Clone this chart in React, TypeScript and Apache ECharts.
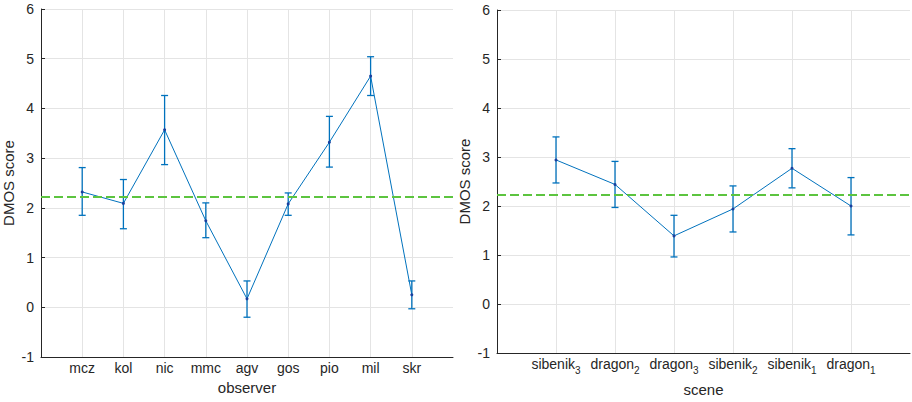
import React, { useEffect, useRef } from "react";
import * as echarts from "echarts";

const observers = ["mcz", "kol", "nic", "mmc", "agv", "gos", "pio", "mil", "skr"];
const obsMean = [2.32, 2.09, 3.57, 1.74, 0.17, 2.08, 3.32, 4.65, 0.25];
const obsLow = [1.85, 1.58, 2.87, 1.4, -0.2, 1.85, 2.82, 4.26, -0.03];
const obsHigh = [2.81, 2.57, 4.26, 2.1, 0.53, 2.3, 3.84, 5.04, 0.53];

const sceneNames = ["sibenik", "dragon", "dragon", "sibenik", "sibenik", "dragon"];
const sceneSub = ["3", "2", "3", "2", "1", "1"];
const sceneMean = [2.94, 2.44, 1.39, 1.94, 2.77, 2.0];
const sceneLow = [2.47, 1.97, 0.96, 1.47, 2.37, 1.41];
const sceneHigh = [3.41, 2.91, 1.81, 2.41, 3.17, 2.58];

const overallMean = 2.23;

const BLUE = "#0072BD";
const GREEN = "#5CC43F";
const AXIS = "#262626";
const GRID = "#e4e4e4";
const FONT = "Liberation Sans";

function errRender(params: any, api: any) {
  const x = api.value(0);
  const lo = api.coord([x, api.value(1)]);
  const hi = api.coord([x, api.value(2)]);
  const w = 3.5;
  const style = { stroke: BLUE, lineWidth: 1.3 };
  return {
    type: "group",
    children: [
      { type: "line", shape: { x1: lo[0], y1: lo[1], x2: hi[0], y2: hi[1] }, style },
      { type: "line", shape: { x1: lo[0] - w, y1: lo[1], x2: lo[0] + w, y2: lo[1] }, style },
      { type: "line", shape: { x1: hi[0] - w, y1: hi[1], x2: hi[0] + w, y2: hi[1] }, style },
    ],
  };
}

export default function App() {
  const ref = useRef<HTMLDivElement>(null);
  useEffect(() => {
    if (!ref.current) return;
    const chart = echarts.init(ref.current, null, { renderer: "svg" });
    const obsIdx = observers.map((_, i) => i + 1);
    const sceneIdx = sceneNames.map((_, i) => i + 1);

    const yAxisCommon = (gridIndex: number) => ({
      type: "value",
      gridIndex,
      min: -1,
      max: 6,
      interval: 1,
      name: "DMOS score",
      nameLocation: "middle",
      nameGap: 25,
      nameTextStyle: { fontFamily: FONT, fontSize: 15, color: AXIS },
      axisLine: { show: true, lineStyle: { color: AXIS, width: 1 } },
      axisTick: { show: true, inside: true, length: 4, lineStyle: { color: AXIS } },
      axisLabel: { fontFamily: FONT, fontSize: 14, color: AXIS, margin: 7 },
      splitLine: { show: true, lineStyle: { color: GRID, width: 1 } },
    });

    const gridLines = (xAxisIndex: number, idx: number[]) => ({
      type: "line",
      xAxisIndex,
      yAxisIndex: xAxisIndex,
      data: [],
      z: 0,
      silent: true,
      markLine: {
        z: 1,
        symbol: "none",
        silent: true,
        label: { show: false },
        lineStyle: { color: GRID, type: "solid", width: 1 },
        data: idx.map((v) => ({ xAxis: v })),
      },
    });

    const meanLine = (axisIndex: number, idx: number[], vals: number[]) => ({
      type: "line",
      xAxisIndex: axisIndex,
      yAxisIndex: axisIndex,
      data: idx.map((x, i) => [x, vals[i]]),
      symbol: "circle",
      symbolSize: 3,
      itemStyle: { color: "#1a3f9e" },
      lineStyle: { color: BLUE, width: 1 },
      z: 4,
      markLine: {
        z: 6,
        symbol: "none",
        silent: true,
        label: { show: false },
        lineStyle: { color: GREEN, type: [9, 4], width: 2 },
        data: [{ yAxis: overallMean }],
      },
    });

    const errSeries = (axisIndex: number, idx: number[], lo: number[], hi: number[]) => ({
      type: "custom",
      xAxisIndex: axisIndex,
      yAxisIndex: axisIndex,
      renderItem: errRender,
      data: idx.map((x, i) => [x, lo[i], hi[i]]),
      z: 3,
    });

    const option: any = {
      animation: false,
      grid: [
        { left: 40, top: 9, width: 413, height: 348 },
        { left: 497, top: 10, width: 413, height: 348 },
      ],
      xAxis: [
        {
          type: "value",
          gridIndex: 0,
          min: 0,
          max: observers.length + 1,
          interval: 1,
          name: "observer",
          nameLocation: "middle",
          nameGap: 21,
          nameTextStyle: { fontFamily: FONT, fontSize: 15, color: AXIS },
          axisLine: { show: true, onZero: false, lineStyle: { color: AXIS } },
          axisTick: { show: true, inside: true, length: 4, customValues: obsIdx, lineStyle: { color: AXIS } },
          axisLabel: {
            customValues: obsIdx,
            fontFamily: FONT,
            fontSize: 14,
            color: AXIS,
            margin: 4,
            formatter: (v: number) => observers[Math.round(v) - 1] ?? "",
          },
          splitLine: { show: false },
        },
        {
          type: "value",
          gridIndex: 1,
          min: 0,
          max: sceneNames.length + 1,
          interval: 1,
          name: "scene",
          nameLocation: "middle",
          nameGap: 29,
          nameTextStyle: { fontFamily: FONT, fontSize: 15, color: AXIS },
          axisLine: { show: true, onZero: false, lineStyle: { color: AXIS } },
          axisTick: { show: true, inside: true, length: 4, customValues: sceneIdx, lineStyle: { color: AXIS } },
          axisLabel: {
            customValues: sceneIdx,
            fontFamily: FONT,
            fontSize: 14,
            color: AXIS,
            margin: 4,
            formatter: (v: number) => {
              const i = Math.round(v) - 1;
              if (i < 0 || i >= sceneNames.length) return "";
              return `{b|${sceneNames[i]}}{s|${sceneSub[i]}}`;
            },
            rich: {
              b: { fontFamily: FONT, fontSize: 14, color: AXIS, verticalAlign: "top", lineHeight: 16 },
              s: { fontFamily: FONT, fontSize: 10, color: AXIS, verticalAlign: "top", padding: [8, 0, 0, 0], lineHeight: 11 },
            },
          },
          splitLine: { show: false },
        },
      ],
      yAxis: [yAxisCommon(0), yAxisCommon(1)],
      series: [
        gridLines(0, obsIdx),
        gridLines(1, sceneIdx),
        errSeries(0, obsIdx, obsLow, obsHigh),
        meanLine(0, obsIdx, obsMean),
        errSeries(1, sceneIdx, sceneLow, sceneHigh),
        meanLine(1, sceneIdx, sceneMean),
      ],
    };
    chart.setOption(option);
    return () => chart.dispose();
  }, []);
  return <div ref={ref} style={{ width: 912, height: 402, position: "absolute", left: 0, top: 0 }} />;
}
